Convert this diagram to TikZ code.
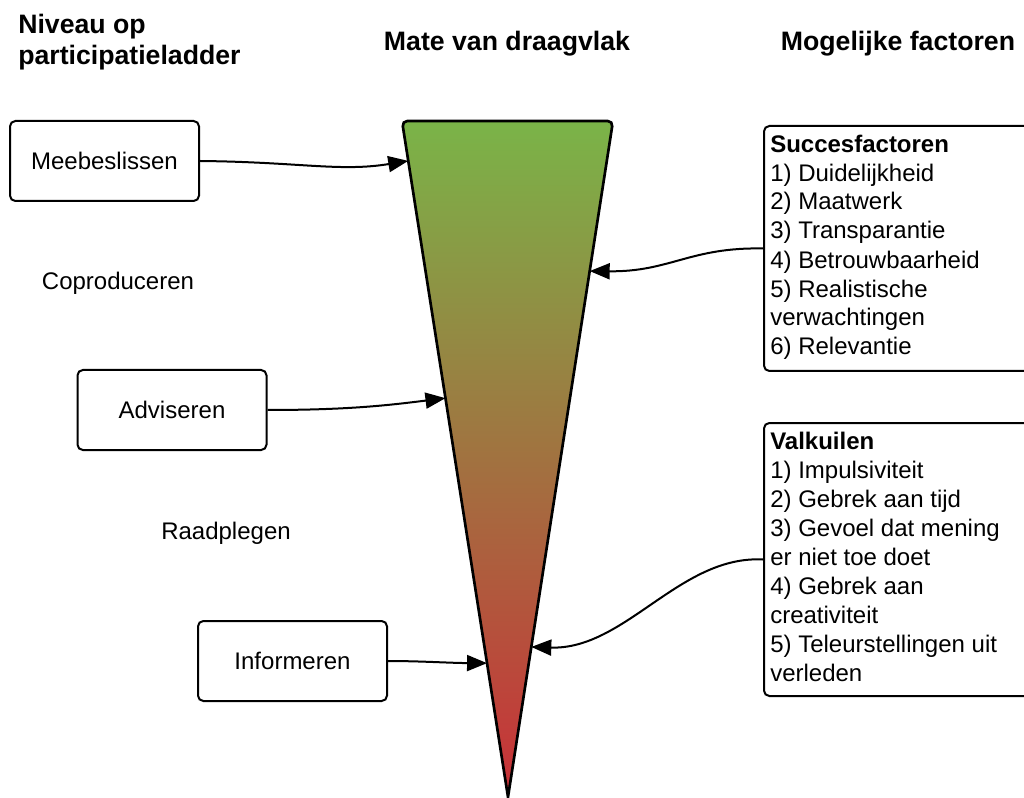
\documentclass[tikz,border=0pt]{standalone}
\usepackage{fontspec}
\setmainfont{Liberation Sans}
\usetikzlibrary{arrows.meta,calc}
\definecolor{topgreen}{RGB}{122,180,72}
\definecolor{botred}{RGB}{201,48,56}
\begin{document}
\begin{tikzpicture}[x=0.75pt,y=-0.75pt,
  body/.style={font=\fontsize{18}{21.75}\selectfont},
  head/.style={font=\fontsize{20}{23.25}\selectfont\bfseries},
  levelbox/.style={draw, line width=1.5pt, rounded corners=4pt, minimum width=141.75pt, minimum height=60pt, inner sep=0pt, body},
  factorbox/.style={draw, line width=1.5pt, rounded corners=4pt, anchor=north west, minimum width=240pt, inner sep=0pt},
  listtext/.style={body, anchor=base west, align=left, inner sep=0pt},
  conn/.style={line width=1.5pt, -{Triangle[length=15pt,width=12pt]}}]
\useasboundingbox (0,0) rectangle (1024,798);
\clip (0,0) rectangle (1024,798);

% headers (base anchor = baseline of last line)
\node[head, anchor=base west, align=left, inner sep=0pt] (h1) at (18,65) {Niveau op\\participatieladder};
\node[head, anchor=base, inner sep=0pt] (h2) at (507,51) {Mate van draagvlak};
\node[head, anchor=base, inner sep=0pt] (h3) at (898,51) {Mogelijke factoren};

% funnel
\coordinate (tl) at (402,121);
\coordinate (tr) at (613,121);
\coordinate (tip) at (508,797);
\path[top color=topgreen, bottom color=botred] (tip) [rounded corners=4pt] -- (tl) -- (tr) [sharp corners] -- cycle;
\draw[line width=2pt, line join=miter] (tip) [rounded corners=4pt] -- (tl) -- (tr) [sharp corners] -- cycle;

% level boxes and labels
\node[levelbox] (meeb) at (104.5,161) {Meebeslissen};
\node[body] (copro) at (118,283) {Coproduceren};
\node[levelbox] (adv) at (172,410) {Adviseren};
\node[body] (raad) at (226,533) {Raadplegen};
\node[levelbox] (inf) at (292.5,661) {Informeren};

% factor boxes
\node[factorbox, minimum height=183.75pt] (succ) at (763,125) {};
\node[listtext] (succtxt) at (770,355) {\textbf{Succesfactoren}\\1) Duidelijkheid\\2) Maatwerk\\3) Transparantie\\4) Betrouwbaarheid\\5) Realistische\\verwachtingen\\6) Relevantie};
\node[factorbox, minimum height=204.75pt] (valk) at (763,422) {};
\node[listtext] (valktxt) at (770,681) {\textbf{Valkuilen}\\1) Impulsiviteit\\2) Gebrek aan tijd\\3) Gevoel dat mening\\er niet toe doet\\4) Gebrek aan\\creativiteit\\5) Teleurstellingen uit\\verleden};

% arrow end points on funnel edges
\coordinate (m1) at ($(tl)!0.059!(tip)$);
\coordinate (a1) at ($(tl)!0.41!(tip)$);
\coordinate (i1) at ($(tl)!0.802!(tip)$);
\coordinate (s1) at ($(tr)!0.222!(tip)$);
\coordinate (v1) at ($(tr)!0.778!(tip)$);

\draw[conn] (meeb.east) .. controls (300,162) and (340,172) .. (m1);
\draw[conn] (adv.east) .. controls (350,410) and (390,405) .. (a1);
\draw[conn] (inf.east) .. controls (420,661) and (450,663) .. (i1);
\draw[conn] (succ.west) .. controls (690,247) and (670,272) .. (s1);
\draw[conn] (valk.west) .. controls (680,555) and (625,650) .. (v1);
\end{tikzpicture}
\end{document}
